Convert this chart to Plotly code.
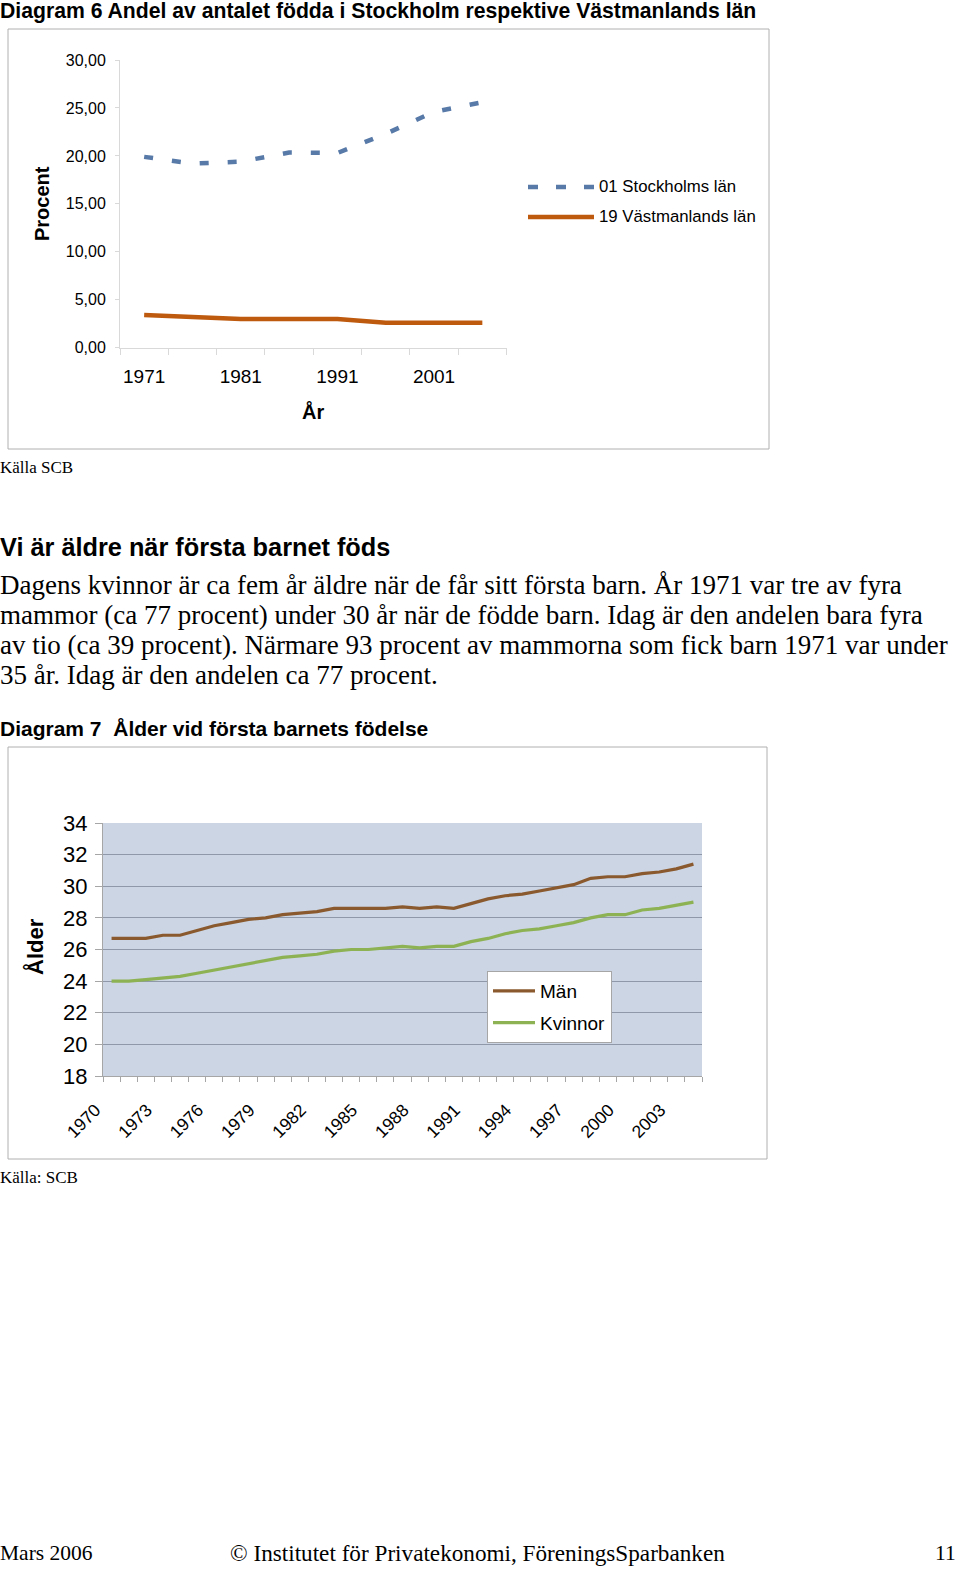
import plotly.graph_objects as go

W, H = 960, 1574


def px(x):
    return x / W


def py(y):
    return 1 - y / H


# ---------------- Data: Diagram 6 ----------------
years6 = [1971, 1976, 1981, 1986, 1991, 1996, 2001, 2006]
stockholm = [19.9, 19.2, 19.4, 20.35, 20.3, 22.3, 24.6, 25.6]
vastmanland = [3.4, 3.15, 3.0, 3.0, 3.0, 2.6, 2.6, 2.6]
ticks6_labels = [1971, 1981, 1991, 2001]
ticks6_y = [0, 5, 10, 15, 20, 25, 30]

# ---------------- Data: Diagram 7 ----------------
years7 = [1970, 1971, 1972, 1973, 1974, 1975, 1976, 1977, 1978, 1979,
          1980, 1981, 1982, 1983, 1984, 1985, 1986, 1987, 1988, 1989,
          1990, 1991, 1992, 1993, 1994, 1995, 1996, 1997, 1998, 1999,
          2000, 2001, 2002, 2003, 2004]
man = [26.7, 26.7, 26.7, 26.9, 26.9, 27.2, 27.5, 27.7, 27.9, 28.0,
       28.2, 28.3, 28.4, 28.6, 28.6, 28.6, 28.6, 28.7, 28.6, 28.7,
       28.6, 28.9, 29.2, 29.4, 29.5, 29.7, 29.9, 30.1, 30.5, 30.6,
       30.6, 30.8, 30.9, 31.1, 31.4]
kvinnor = [24.0, 24.0, 24.1, 24.2, 24.3, 24.5, 24.7, 24.9, 25.1, 25.3,
           25.5, 25.6, 25.7, 25.9, 26.0, 26.0, 26.1, 26.2, 26.1, 26.2,
           26.2, 26.5, 26.7, 27.0, 27.2, 27.3, 27.5, 27.7, 28.0, 28.2,
           28.2, 28.5, 28.6, 28.8, 29.0]
ticks7_labels = [1970, 1973, 1976, 1979, 1982, 1985, 1988, 1991, 1994, 1997, 2000, 2003]
ticks7_y = [18, 20, 22, 24, 26, 28, 30, 32, 34]

# ---------------- Colours / fonts ----------------
BLUE = "#587AA8"
ORANGE = "#BE5A0E"
BROWN = "#8A5A2E"
GREEN = "#8DB254"
SANS = "Liberation Sans, Arial, sans-serif"
SERIF = "Liberation Serif, Times New Roman, serif"
LIGHT = "#D9D9D9"
GRAY = "#A6A6A6"

fig = go.Figure()

fig.add_trace(go.Scatter(
    x=years6, y=stockholm, mode="lines", name="01 Stockholms län",
    line=dict(color=BLUE, width=4.5, dash="9px,19px"),
    xaxis="x", yaxis="y", showlegend=False))
fig.add_trace(go.Scatter(
    x=years6, y=vastmanland, mode="lines", name="19 Västmanlands län",
    line=dict(color=ORANGE, width=4.5),
    xaxis="x", yaxis="y", showlegend=False))

fig.add_trace(go.Scatter(
    x=years7, y=man, mode="lines", name="Män", legendgroup="m",
    line=dict(color=BROWN, width=3.2), xaxis="x2", yaxis="y2"))
fig.add_trace(go.Scatter(
    x=years7, y=kvinnor, mode="lines", name="Kvinnor", legendgroup="k",
    line=dict(color=GREEN, width=3.2), xaxis="x2", yaxis="y2"))

shapes = [
    # chart frames
    dict(type="rect", xref="paper", yref="paper", x0=px(8), x1=px(769), y0=py(449), y1=py(29),
         line=dict(color="#B0B0B0", width=1), fillcolor="rgba(0,0,0,0)", layer="below"),
    dict(type="rect", xref="paper", yref="paper", x0=px(8), x1=px(767), y0=py(1159), y1=py(747),
         line=dict(color="#B0B0B0", width=1), fillcolor="rgba(0,0,0,0)", layer="below"),
    # chart 2 plot background
    dict(type="rect", xref="x2 domain", yref="y2 domain", x0=0, x1=1, y0=0, y1=1,
         line=dict(width=0), fillcolor="#CBD5E3", layer="below"),
    # custom legend samples for chart 1
    dict(type="line", xref="paper", yref="paper", x0=px(528), x1=px(594), y0=py(187), y1=py(187),
         line=dict(color=BLUE, width=4.5, dash="10px,18px")),
    dict(type="line", xref="paper", yref="paper", x0=px(528), x1=px(594), y0=py(217), y1=py(217),
         line=dict(color=ORANGE, width=4.5)),
]


def ann(text, x, y, size, family=SANS, bold=False, xanchor="left", angle=0, yanchor="middle"):
    return dict(text=("<b>%s</b>" % text) if bold else text, x=px(x), y=py(y),
                xref="paper", yref="paper", xanchor=xanchor, yanchor=yanchor,
                showarrow=False, textangle=angle, borderpad=0,
                font=dict(family=family, size=size, color="black"))


para = [
    "Dagens kvinnor är ca fem år äldre när de får sitt första barn. År 1971 var tre av fyra",
    "mammor (ca 77 procent) under 30 år när de födde barn. Idag är den andelen bara fyra",
    "av tio (ca 39 procent). Närmare 93 procent av mammorna som fick barn 1971 var under",
    "35 år. Idag är den andelen ca 77 procent.",
]

annotations = [
    ann("Diagram 6 Andel av antalet födda i Stockholm respektive Västmanlands län", -1, -2, 21.2,
        bold=True, yanchor="top"),
    ann("Procent", 42, 204, 20, bold=True, xanchor="center", angle=-90),
    ann("År", 313, 412, 20, bold=True, xanchor="center"),
    ann("01 Stockholms län", 598, 187, 16.8),
    ann("19 Västmanlands län", 598, 217, 16.8),
    ann("Källa SCB", -1, 468, 17, family=SERIF),
    ann("Vi är äldre när första barnet föds", -1, 547, 25.3, bold=True),
    ann("Diagram 7\u00a0 Ålder vid första barnets födelse", -1, 728, 21, bold=True),
    ann("Ålder", 35, 947, 22, bold=True, xanchor="center", angle=-90),
    ann("Källa: SCB", -1, 1177, 17, family=SERIF),
    ann("Mars 2006", -1, 1553, 21.5, family=SERIF),
    ann("© Institutet för Privatekonomi, FöreningsSparbanken", 229, 1553, 23.2, family=SERIF),
    ann("11", 957, 1553, 21.5, family=SERIF, xanchor="right"),
]
for i, line in enumerate(para):
    annotations.append(ann(line, -1, 585 + 30 * i, 27, family=SERIF))

fig.update_layout(
    width=W, height=H,
    margin=dict(l=0, r=0, t=0, b=0, autoexpand=False),
    paper_bgcolor="white", plot_bgcolor="rgba(0,0,0,0)",
    separators=", ",
    font=dict(family=SANS, color="black"),
    shapes=shapes,
    annotations=annotations,
    showlegend=True,
    legend=dict(x=px(487), y=py(971), xanchor="left", yanchor="top",
                bgcolor="white", bordercolor=GRAY, borderwidth=1,
                font=dict(family=SANS, size=19, color="black"),
                traceorder="grouped", tracegroupgap=4, itemwidth=42),
    xaxis=dict(domain=[px(120), px(506.5)], anchor="y", range=[1968.5, 2008.5], automargin=False,
               tickmode="array", tickvals=ticks6_labels, ticks="",
               showline=True, linecolor=LIGHT, linewidth=1, showgrid=False, zeroline=False,
               tickfont=dict(family=SANS, size=19, color="black"), ticklabelstandoff=11,
               minor=dict(ticks="outside", tick0=1968.5, dtick=5, ticklen=6,
                          tickcolor=LIGHT, showgrid=False)),
    yaxis=dict(domain=[py(347.7), py(60)], anchor="x", range=[0, 30], automargin=False,
               tickmode="array", tickvals=ticks6_y, tickformat=".2f",
               ticks="outside", ticklen=4, tickcolor=LIGHT,
               showline=True, linecolor=LIGHT, linewidth=1, showgrid=False, zeroline=False,
               tickfont=dict(family=SANS, size=16, color="black"), ticklabelstandoff=6),
    xaxis2=dict(domain=[px(103), px(702)], anchor="y2", range=[1969.5, 2004.5], automargin=False,
                tickmode="array", tickvals=ticks7_labels, tickangle=-45, ticks="",
                showline=True, linecolor=GRAY, linewidth=1, showgrid=False, zeroline=False,
                tickfont=dict(family=SANS, size=17.5, color="black"),
                ticklabelstandoff=16, ticklabelshift=-16,
                minor=dict(ticks="outside", tick0=1969.5, dtick=1, ticklen=5,
                           tickcolor=GRAY, showgrid=False)),
    yaxis2=dict(domain=[py(1076), py(823)], anchor="x2", range=[18, 34], automargin=False,
                tickmode="array", tickvals=ticks7_y,
                ticks="outside", ticklen=7, tickcolor=GRAY,
                showline=True, linecolor=GRAY, linewidth=1,
                showgrid=True, gridcolor="#8E98A8", gridwidth=1.2, zeroline=False,
                tickfont=dict(family=SANS, size=22, color="black"), ticklabelstandoff=3),
)

fig.write_html("out.html")
